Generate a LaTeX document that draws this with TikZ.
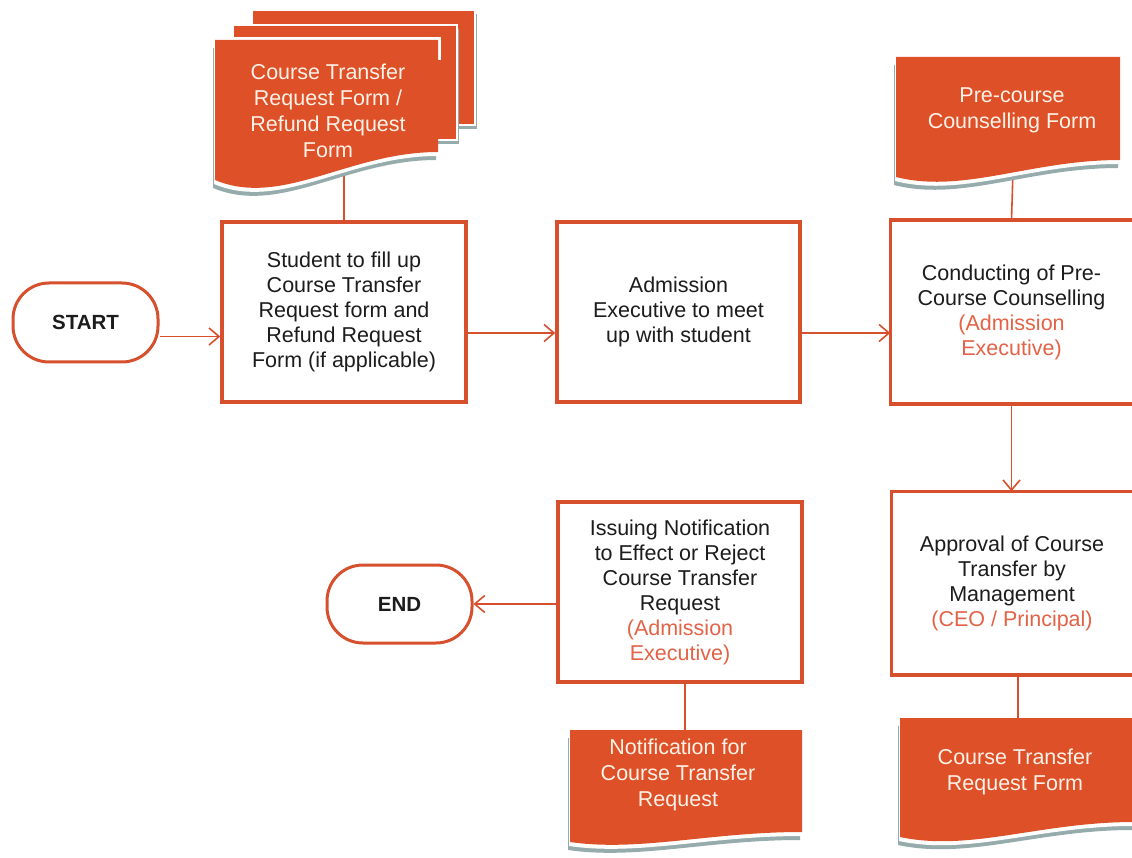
\documentclass[tikz,border=0pt]{standalone}
\usepackage{fontspec}
\setmainfont{Liberation Sans}
\usetikzlibrary{arrows.meta,calc}
\definecolor{lineor}{RGB}{214,80,46}
\definecolor{docor}{RGB}{222,80,40}
\definecolor{redtxt}{RGB}{228,98,70}
\definecolor{shad}{RGB}{150,172,172}
\definecolor{txtc}{RGB}{28,28,28}
\definecolor{doctxt}{RGB}{255,242,232}
\newcommand\wdp[7]{%
  \fill[#6,shift={(#7)}] (#1,#2) -- (#3,#2) -- (#3,{#4-#5})
    .. controls ({#1+0.6*(#3-#1)},{#4-#5}) and ({#1+0.3*(#3-#1)},{#4+#5}) .. (#1,#4) -- cycle;}
\newcommand\wavedoc[5]{%
  \wdp{#1}{#2}{#3}{#4}{#5}{shad}{-2,8}%
  \wdp{#1}{#2}{#3}{#4}{#5}{white}{-1,4}%
  \wdp{#1}{#2}{#3}{#4}{#5}{docor}{0,0}}
\tikzset{
  box/.style={draw=lineor,line width=3.5pt,fill=white,minimum width=244pt,minimum height=180pt,
    align=center,text=txtc,font=\fontsize{21.5}{25}\selectfont,inner sep=0pt},
  openbox/.style={box,draw=none},
  boxline/.style={draw=lineor,line width=3.5pt},
  term/.style={draw=lineor,line width=3pt,fill=white,rounded corners=36pt,minimum width=145pt,
    minimum height=79pt,font=\fontsize{20.5}{24}\selectfont\bfseries,text=txtc},
  doctext/.style={align=center,text=doctxt,font=\fontsize{21.5}{26}\selectfont,inner sep=0pt},
  conn/.style={draw=lineor,line width=1.6pt},
  arr/.style={conn,-{Straight Barb[length=10pt,width=17pt,line width=1.6pt]}}
}
\begin{document}
\begin{tikzpicture}[x=1pt,y=-1pt]
\useasboundingbox (0,0) rectangle (1132,858);
\clip (0,0) rectangle (1132,858);
\fill[white] (0,0) rectangle (1132,858);

% boxes
\node[term] (start) at (85.5,322.5) {START};
\node[box] (b1) at (344,312) {Student to fill up\\Course Transfer\\Request form and\\Refund Request\\Form (if applicable)};
\node[box,minimum width=243pt] (b2) at (678.5,312) {Admission\\Executive to meet\\up with student};
\node[openbox,minimum width=239pt] (b3) at (1011.5,312) {Conducting of Pre-\\Course Counselling\\\textcolor{redtxt}{(Admission}\\\textcolor{redtxt}{Executive)}};
\draw[boxline] ([xshift=40pt]b3.north east) -- (b3.north west) -- (b3.south west) -- ([xshift=40pt]b3.south east);
\node[openbox,minimum width=238pt] (b4) at (1012,583) {Approval of Course\\Transfer by\\Management\\\textcolor{redtxt}{(CEO / Principal)}};
\draw[boxline] ([xshift=40pt]b4.north east) -- (b4.north west) -- (b4.south west) -- ([xshift=40pt]b4.south east);
\node[box] (b5) at (680,592) {Issuing Notification\\to Effect or Reject\\Course Transfer\\Request\\\textcolor{redtxt}{(Admission}\\\textcolor{redtxt}{Executive)}};
\node[term,minimum height=78pt] (end) at (399.5,604) {END};

% connector end points at documents
\coordinate (dAb) at (344,170);
\coordinate (dBb) at (1013,170);
\coordinate (dCt) at (685,740);
\coordinate (dDt) at (1018,730);

% connectors
\draw[arr] ([yshift=-14pt]start.east) -- ([yshift=-14pt]start.east -| b1.west);
\draw[arr] ([yshift=-21pt]b1.east) -- ([yshift=-21pt]b2.west);
\draw[arr] ([yshift=-21pt]b2.east) -- ([yshift=-21pt]b3.west);
\draw[arr] (b3.south) -- (b3.south |- b4.north);
\draw[arr] (end.east -| b5.west) -- (end.east);
\draw[conn] (dAb) -- (b1.north);
\draw[conn] (dBb) -- (b3.north);
\draw[conn] (b5.south -| dCt) -- (dCt);
\draw[conn] (b4.south -| dDt) -- (dDt);

% stacked document (top left)
\fill[shad] (254,14) rectangle (477,129);
\fill[docor,draw=white,line width=2pt] (252,10) rectangle (475,125);
\fill[shad] (235,29) rectangle (459,144);
\fill[docor,draw=white,line width=2pt] (233,25) rectangle (457,140);
\fill[white] (212,37) rectangle (441,60);
\wavedoc{215}{40}{438}{180}{28}
\node[doctext] (dA) at (328,111) {Course Transfer\\Request Form /\\Refund Request\\Form};

% pre-course counselling form
\wavedoc{896}{57}{1120}{177}{17}
\node[doctext] (dB) at (1012,110) {Pre-course\\Counselling Form};

% notification doc
\wavedoc{570}{730}{802}{842}{10}
\node[doctext] (dC) at (678,775) {Notification for\\Course Transfer\\Request};

% course transfer request form
\wavedoc{900}{718}{1134}{837}{15}
\node[doctext] (dD) at (1015,772) {Course Transfer\\Request Form};
\end{tikzpicture}
\end{document}
